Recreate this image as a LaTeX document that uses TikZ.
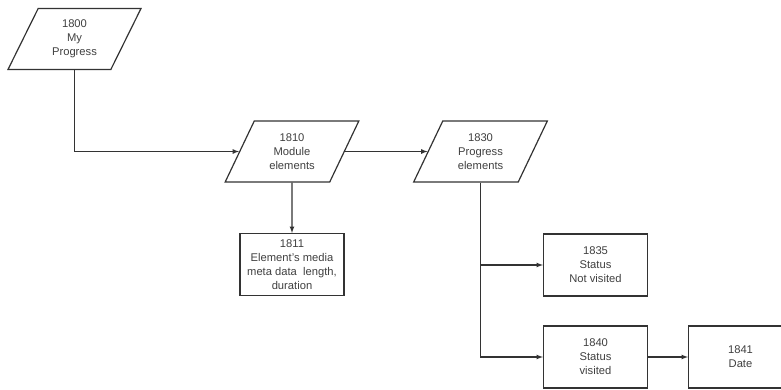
\documentclass[tikz,border=0pt]{standalone}
\usepackage{fontspec}
\setmainfont{Liberation Sans}
\usepackage{tikz}
\usetikzlibrary{arrows,shapes.geometric}
\definecolor{inkline}{HTML}{333333}
\tikzset{
  flownode/.style = {align=center, inner sep=0pt, text centered,
    font=\fontsize{11.2}{14}\selectfont, draw=inkline, line width=1.2pt,
    text=black!75},
  io_p/.style = {flownode, trapezium, trapezium left angle=64,
    trapezium right angle=116, trapezium stretches=true,
    minimum width=134pt, minimum height=61pt},% parallelogramme, entree
  proc_b/.style = {flownode, rectangle,
    minimum width=104pt, minimum height=62pt},% boite, etape
  link/.style = {-latex, draw=inkline, line width=1.2pt}
}

\begin{document}
\begin{tikzpicture}[x=1pt, y=-1pt]
		\useasboundingbox[fill=white] (0,0) rectangle (781,389);
		\node [io_p] (n1800) at (74.5,39) {1800\\My\\Progress};
		\node [io_p] (n1810) at (292,151.5) {1810\\Module\\elements};
		\node [io_p] (n1830) at (480.5,151.5) {1830\\Progress\\elements};
		\node [proc_b] (n1811) at (292,264.5) {1811\\Element's media\\meta data\ \ length,\\duration};
		\node [proc_b] (n1835) at (595.5,265) {1835\\Status\\Not visited};
		\node [proc_b] (n1840) at (595.5,357) {1840\\Status\\visited};
		\node [proc_b] (n1841) at (740.5,357) {1841\\Date};
		\draw [link] (n1800.south) |- (n1810.west);
		\draw [link] (n1810.east) -- (n1830.west);
		\draw [link] (n1810.south) -- (n1811.north);
		\draw [link] (n1830.south) |- (n1840.west);
		\draw [link] (n1830.south |- n1835.west) -- (n1835.west);
		\draw [link] (n1840.east) -- (n1841.west);
	\end{tikzpicture}
\end{document}
